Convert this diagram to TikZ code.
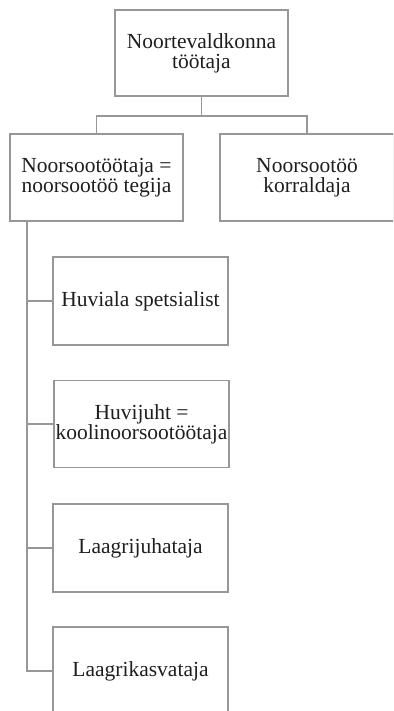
\documentclass[tikz,border=0pt]{standalone}
\usepackage{fontspec}
\setmainfont{Liberation Serif}
\definecolor{linegray}{RGB}{150,150,155}
\definecolor{txt}{RGB}{30,30,30}
\begin{document}
\begin{tikzpicture}[x=1pt,y=-1pt,
  box/.style={draw=linegray, line width=1.5pt, rectangle, align=center,
    text=txt, inner sep=0pt, font=\fontsize{21.5pt}{20pt}\selectfont},
  conn/.style={draw=linegray, line width=1.5pt}]
\useasboundingbox (0,0) rectangle (393,711);
\clip (0,0) rectangle (393,711);
\node[box, minimum width=173pt, minimum height=86pt] (top) at (201.5,53) {Noortevaldkonna\\töötaja};
\node[box, minimum width=173pt, minimum height=87pt] (left) at (96.5,177.5) {Noorsootöötaja =\\noorsootöö tegija};
\node[box, minimum width=174pt, minimum height=87pt] (right) at (307,177.5) {Noorsootöö\\korraldaja};
\node[box, minimum width=175pt, minimum height=88pt] (c1) at (140.5,301) {Huviala spetsialist};
\node[box, minimum width=175pt, minimum height=87pt] (c2) at (141.5,424) {Huvijuht =\\koolinoorsootöötaja};
\node[box, minimum width=175pt, minimum height=88pt] (c3) at (140.5,548) {Laagrijuhataja};
\node[box, minimum width=175pt, minimum height=88pt] (c4) at (140.5,671) {Laagrikasvataja};
\coordinate (bus) at (201.5,116);
\coordinate (trunk) at (27,221);
\draw[conn] (top.south) -- (bus);
\draw[conn] (left.north) |- (bus) -| (right.north);
\draw[conn] (trunk) |- (c4.west);
\draw[conn] (trunk |- c1.west) -- (c1.west);
\draw[conn] (trunk |- c2.west) -- (c2.west);
\draw[conn] (trunk |- c3.west) -- (c3.west);
\end{tikzpicture}
\end{document}
